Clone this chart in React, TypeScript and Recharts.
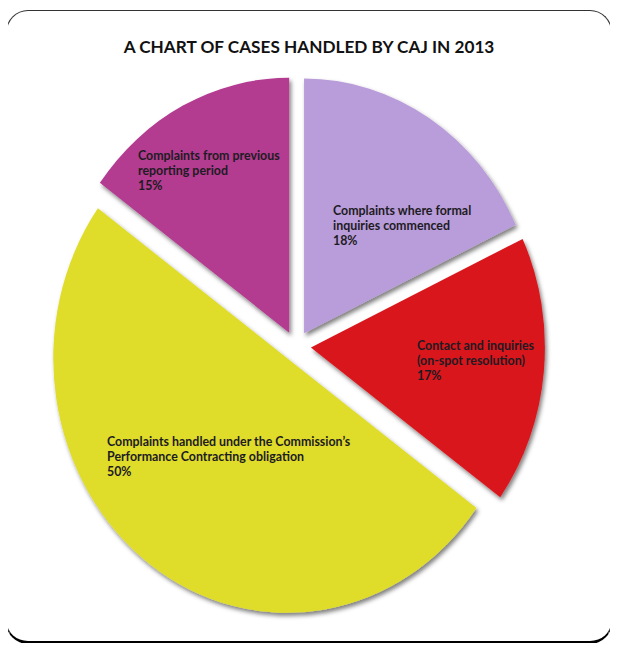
import { Cell, Pie, PieChart } from 'recharts'

// values (clockwise from 12 o'clock)
const categories = [
  'Complaints where formal inquiries commenced',
  'Contact and inquiries (on-spot resolution)',
  'Complaints handled under the Commission’s Performance Contracting obligation',
  'Complaints from previous reporting period',
]
const labelLines = [
  ['Complaints where formal', 'inquiries commenced'],
  ['Contact and inquiries', '(on-spot resolution)'],
  ['Complaints handled under the Commission’s', 'Performance Contracting obligation'],
  ['Complaints from previous', 'reporting period'],
]
const shares = [18, 17, 50, 15]
const colors = ['#B99CDA', '#D9181C', '#DFDC2C', '#B33A90']

const data = categories.map((name, i) => ({ name, value: shares[i] }))

const CX = 296
const CY = 346
const RADIUS = 245
const EXPLODE = 15
// the photographed pie is a little taller than wide
const SCALE_X = 0.955
const SCALE_Y = 1.04
// label block anchors (left edge, first line centre) relative to the pie centre
const labelAnchor = [
  { dx: 37, dy: -136 },
  { dx: 121, dy: -1 },
  { dx: -189, dy: 95 },
  { dx: -158, dy: -191 },
]

const total = shares.reduce((a, b) => a + b, 0)
const explodeOffsets = shares.map((v, i) => {
  const before = shares.slice(0, i).reduce((a, b) => a + b, 0)
  const mid = 90 - (360 * (before + v / 2)) / total
  const rad = (mid * Math.PI) / 180
  return { x: EXPLODE * Math.cos(rad), y: -EXPLODE * Math.sin(rad) }
})

const FONT = 'Lato, "Open Sans", sans-serif'

function renderLabel(props: any) {
  const { cx, cy, index, value } = props
  const a = labelAnchor[index]
  const x = cx + a.dx
  const y = cy + a.dy
  const lines = [...labelLines[index], `${value}%`]
  return (
    <text
      key={`lbl-${index}`}
      x={x}
      y={y}
      fill="#1d1b22"
      fontSize={12.4}
      fontWeight={700}
      fontFamily={FONT}
      dominantBaseline="central"
    >
      {lines.map((l, j) => (
        <tspan key={j} x={x} y={y + j * 15}>
          {l}
        </tspan>
      ))}
    </text>
  )
}

export default function App() {
  return (
    <div style={{ position: 'relative', width: 602, height: 635 }}>
      <div
        style={{
          position: 'absolute',
          left: -2,
          top: 2,
          width: 604,
          height: 630,
          border: '1.5px solid #333',
          borderBottom: '3.5px solid #000',
          borderRadius: 22,
          background: '#fff',
        }}
      />
      <div style={{ position: 'absolute', left: -8, top: -8 }}>
        <div
          style={{
            position: 'absolute',
            left: 0,
            top: 36,
            width: 618,
            textAlign: 'center',
            fontFamily: FONT,
            fontWeight: 700,
            fontSize: 17.2,
            color: '#111',
            zIndex: 2,
          }}
        >
          A CHART OF CASES HANDLED BY CAJ IN 2013
        </div>
        <PieChart width={618} height={651} margin={{ top: 0, right: 0, bottom: 0, left: 0 }}>
          <defs>
            <filter id="sliceShadow" x="-15%" y="-15%" width="135%" height="135%">
              <feDropShadow dx="2" dy="3" stdDeviation="2" floodColor="#000" floodOpacity="0.5" />
            </filter>
          </defs>
          <Pie
            data={data}
            dataKey="value"
            nameKey="name"
            cx={CX}
            cy={CY}
            outerRadius={RADIUS}
            startAngle={90}
            endAngle={-270}
            stroke="none"
            label={renderLabel}
            labelLine={false}
            isAnimationActive={false}
          >
            {data.map((d, i) => (
              <Cell
                key={d.name}
                fill={colors[i]}
                style={{
                  filter: 'url(#sliceShadow)',
                  transformOrigin: `${CX}px ${CY}px`,
                  transform: `translate(${explodeOffsets[i].x}px, ${explodeOffsets[i].y}px) scale(${SCALE_X}, ${SCALE_Y})`,
                }}
              />
            ))}
          </Pie>
        </PieChart>
      </div>
    </div>
  )
}
